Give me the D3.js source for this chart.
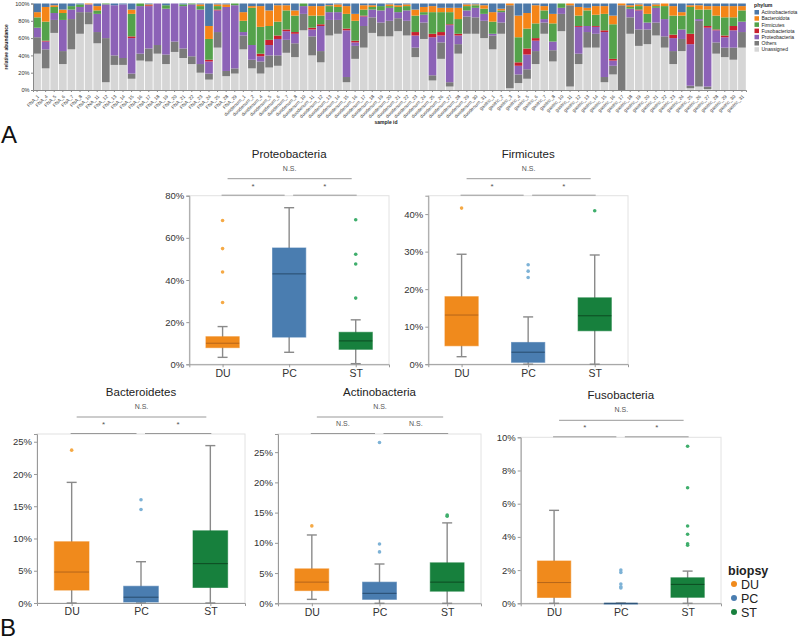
<!DOCTYPE html>
<html><head><meta charset="utf-8">
<script src="https://cdn.jsdelivr.net/npm/d3@7"></script>
<style>body{margin:0;background:#fff;} svg{display:block;font-family:"Liberation Sans",Arial,Helvetica,sans-serif;}</style>
</head><body><svg id="c" width="800" height="642"></svg>
<script>
// ---------- Panel A data ----------
const samples = ["FNA_1","FNA_4","FNA_5","FNA_6","FNA_7","FNA_8","FNA_10","FNA_11","FNA_12","FNA_13","FNA_14","FNA_15","FNA_16","FNA_17","FNA_18","FNA_19","FNA_20","FNA_21","FNA_22","FNA_23","FNA_24","FNA_25","FNA_28","FNA_29",
"duodenum_1","duodenum_2","duodenum_4","duodenum_5","duodenum_6","duodenum_7","duodenum_8","duodenum_10","duodenum_11","duodenum_12","duodenum_13","duodenum_14","duodenum_15","duodenum_16","duodenum_17","duodenum_18","duodenum_19","duodenum_20","duodenum_21","duodenum_22","duodenum_23","duodenum_24","duodenum_25","duodenum_26","duodenum_27","duodenum_28","duodenum_29","duodenum_30","duodenum_31",
"gastric_1","gastric_2","gastric_3","gastric_4","gastric_5","gastric_6","gastric_7","gastric_8","gastric_10","gastric_11","gastric_12","gastric_13","gastric_14","gastric_15","gastric_16","gastric_17","gastric_18","gastric_19","gastric_20","gastric_21","gastric_22","gastric_23","gastric_24","gastric_25","gastric_26","gastric_27","gastric_28","gastric_29","gastric_30","gastric_31"];

const unassigned = [42,25,66,30,47,65,76,54,9,29,29,13,34,33,42,30,44,37,30,20,12,49,16,19,
 47,25,19,26,28,43,38,69,40,32,63,65,9,36,49,66,62,62,68,63,38,59,11,36,4,42,65,65,60,
 47,65,2,8,13,30,65,33,68,4,30,49,49,9,18,0,65,51,53,63,49,30,45,2,4,1,42,38,35,49];
const others = [19,22,15,15,35,25,14,13,51,11,8,6,8,15,10,11,12,11,9,10,7,18,6,6,
 16,10,14,14,12,15,16,19,22,13,18,16,6,15,25,18,16,18,15,17,11,19,6,19,5,11,20,19,20,
 16,13,96,10,11,15,13,13,20,94,12,18,16,6,10,98,19,19,17,15,13,15,14,3,76,3,13,11,14,18];
const proteobacteria = [11,9,8,36,11,6,9,21,39,58,62,41,55,49,48,53,44,49,60,63,14,25,74,73,
 4,17,6,12,19,10,11,9,8,29,9,9,54,4,11,9,14,15,7,12,14,9,44,8,66,10,7,11,8,
 2,12,0,10,17,12,4,10,7,0,31,7,8,52,6,0,10,22,8,17,20,15,11,48,2,68,14,12,20,12];
const fusobacteriota = [0,1,0,0,0,0,0,0,0,0,0,2,0,1,0,0,0,0,0,0,2,1,0,0,
 0,0,3,6,4,2,2,0,2,2,0,0,2,2,1,0,0,0,0,0,4,0,4,4,1,2,0,0,0,
 0,0,0,4,7,3,0,0,0,0,1,0,1,2,2,0,0,1,0,0,0,4,0,12,0,2,1,2,5,0];
const firmicutes = [12,22,7,8,4,3,0,4,1,0,0,26,3,0,0,4,0,2,1,4,24,4,0,2,
 13,43,31,16,16,22,19,3,14,10,7,6,17,23,7,3,5,2,6,5,19,3,25,23,14,17,5,3,6,
 14,2,0,29,23,17,10,21,5,0,12,18,13,19,40,0,2,4,10,2,15,22,16,31,11,19,16,21,10,13];
const bacteroidota = [6,17,2,4,0,0,1,5,0,0,0,5,0,1,0,0,0,0,0,2,15,2,3,0,
 10,2,24,18,19,6,6,0,11,11,1,3,9,8,5,2,0,2,2,2,7,6,7,5,5,13,2,1,4,
 11,2,2,25,18,21,5,11,0,2,10,3,10,9,10,2,2,2,9,2,3,11,4,2,5,4,11,13,13,5];
const actinobacteriota = [10,4,2,7,3,1,0,3,0,2,1,7,0,1,0,2,0,1,0,1,26,1,1,0,
 10,3,3,8,2,2,8,0,3,3,2,1,3,12,2,2,3,1,2,1,7,4,3,5,5,5,1,1,2,
 10,6,0,14,11,2,3,12,0,0,4,5,3,3,14,0,2,1,3,1,0,3,10,2,2,3,3,3,3,3];

const phyla = ["Actinobacteriota","Bacteroidota","Firmicutes","Fusobacteriota","Proteobacteria","Others","Unassigned"];
const phylumColors = ["#4c78a8","#f58518","#54a24b","#c8202f","#8c62b7","#7b7b7b","#d6d6d6"];
const abundanceTicks = [0,0.2,0.4,0.6,0.8,1.0];

// ---------- Panel B data ----------
const groups = ["DU","PC","ST"];
const groupColors = ["#f08a1c","#4a7db0","#17803d"];
const medianColors = ["#b5651a","#274a6c","#0d4a22"];
const outlierColors = ["#f5a945","#7db2d6","#3fae6c"];
// [min, q1, median, q3, max] in %
const proteoStats = [[3.3,7.9,10.0,13.1,17.9],[5.7,12.9,42.9,55.2,74.3],[0.3,7.1,11.1,15.2,21.1]];
const proteoOut = [[68.2,54.9,43.8,29.3],[],[68.6,52.2,47.6,31.4]];
const firmStats = [[2.0,4.9,13.1,18.0,29.3],[0.0,0.5,3.2,5.8,12.6],[0.0,8.9,12.9,17.7,29.1]];
const firmOut = [[41.6],[26.5,24.8,23.1],[40.9]];
const bactStats = [[0.0,2.0,4.8,9.5,18.7],[0.0,0.15,0.9,2.6,6.4],[0.0,2.4,6.1,11.2,24.4]];
const bactOut = [[23.7],[16.0,14.5],[]];
const actinoStats = [[0.65,2.1,3.5,5.7,11.3],[0.0,0.65,1.65,3.5,6.5],[0.0,2.0,3.5,6.7,13.3]];
const actinoOut = [[12.8],[26.6,9.8,8.5],[14.6,14.4]];
const fusoStats = [[0.0,0.35,1.25,2.55,5.6],[0,0,0,0,0],[0.0,0.36,1.14,1.54,1.94]];
const fusoOut = [[],[2.0,1.86,1.16,1.0,0.92],[9.46,6.96,4.66,4.16,3.58,3.5]];
const sigStar = ["*","*","N.S."];
const sigNS = ["N.S.","N.S.","N.S."];

const svg = d3.select("#c");

// ================= Panel A =================
(function(){
  const L=33, R=746, T=3.5, B=90;
  const series = {Actinobacteriota:actinobacteriota,Bacteroidota:bacteroidota,Firmicutes:firmicutes,Fusobacteriota:fusobacteriota,Proteobacteria:proteobacteria,Others:others,Unassigned:unassigned};
  const table = samples.map((s,i)=>{const o={sample:s}; let tot=0; phyla.forEach(p=>tot+=series[p][i]); phyla.forEach(p=>o[p]=series[p][i]/tot); return o;});
  const keysBottomUp = phyla.slice().reverse();
  const stack = d3.stack().keys(keysBottomUp)(table);
  const x = d3.scaleBand().domain(samples).range([L,R]).paddingInner(0.1).paddingOuter(0.02);
  const y = d3.scaleLinear().domain([0,1]).range([B,T]);
  const color = d3.scaleOrdinal().domain(phyla).range(phylumColors);
  const g = svg.append("g");
  g.append("g").selectAll("g").data(stack).join("g").attr("fill",d=>color(d.key))
    .selectAll("rect").data(d=>d).join("rect")
    .attr("x",d=>x(d.data.sample)).attr("width",x.bandwidth())
    .attr("y",d=>y(d[1])).attr("height",d=>Math.max(0,y(d[0])-y(d[1])));
  const ya = g.append("g").attr("transform",`translate(${L},0)`)
    .call(d3.axisLeft(y).tickValues(abundanceTicks).tickFormat(d3.format(".0%")).tickSize(2).tickPadding(1.5));
  ya.select(".domain").attr("stroke","#888");
  ya.selectAll("line").attr("stroke","#888");
  ya.selectAll("text").attr("font-size",5.6).style("fill","#333");
  const xa = g.append("g").attr("transform",`translate(0,${B})`)
    .call(d3.axisBottom(x).tickSize(2).tickPadding(1));
  xa.select(".domain").attr("stroke","#888");
  xa.selectAll("line").attr("stroke","#888");
  xa.selectAll("text").attr("font-size",4.8).style("fill","#444")
    .attr("text-anchor","end").attr("dy","0.3em").attr("dx","-0.2em")
    .attr("transform","translate(0,3) rotate(-45)");
  g.append("text").attr("transform",`translate(8,${(T+B)/2}) rotate(-90)`).attr("text-anchor","middle")
    .attr("font-size",5).attr("font-weight","bold").attr("fill","#222").text("relative abundance");
  g.append("text").attr("x",386).attr("y",124).attr("text-anchor","middle")
    .attr("font-size",5).attr("font-weight","bold").attr("fill","#222").text("sample id");
  // legend
  const lg = g.append("g").attr("transform","translate(754,0)");
  lg.append("text").attr("x",0).attr("y",7).attr("font-size",5.2).attr("font-weight","bold").attr("fill","#222").text("phylum");
  phyla.forEach((p,i)=>{
    lg.append("rect").attr("x",0.5).attr("y",10+i*6.2).attr("width",4.5).attr("height",4.5).attr("fill",color(p));
    lg.append("text").attr("x",7.5).attr("y",14.2+i*6.2).attr("font-size",5).attr("fill","#222").text(p);
  });
  svg.append("text").attr("x",1).attr("y",143).attr("font-size",24).attr("fill","#111").text("A");
  svg.append("text").attr("x",0).attr("y",636).attr("font-size",24).attr("fill","#111").text("B");
})();

// ================= Panel B =================
function boxPanel(cfg){
  const {L,R,T,B,ymax,ticks,title,stats,outs,sig} = cfg;
  const g = svg.append("g");
  const x = d3.scalePoint().domain(groups).range([L,R]).padding(0.5);
  const y = d3.scaleLinear().domain([0,ymax]).range([B,T]);
  const step = x.step(), bw = step*0.5;
  g.append("rect").attr("x",L).attr("y",T).attr("width",R-L).attr("height",B-T).attr("fill","none").attr("stroke","#e2e2e2");
  const ya = g.append("g").attr("transform",`translate(${L},0)`)
    .call(d3.axisLeft(y).tickValues(ticks).tickFormat(d=>d+"%").tickSize(3).tickPadding(2));
  ya.select(".domain").attr("stroke","#999");
  ya.selectAll("line").attr("stroke","#999");
  ya.selectAll("text").attr("font-size",9.5).style("fill","#333");
  const xa = g.append("g").attr("transform",`translate(0,${B})`)
    .call(d3.axisBottom(x).tickSize(3).tickPadding(2));
  xa.select(".domain").attr("stroke","#999");
  xa.selectAll("line").attr("stroke","#999");
  xa.selectAll("text").attr("font-size",10.5).style("fill","#333");
  groups.forEach((gr,i)=>{
    const s = stats[i], cx = x(gr);
    const w = g.append("g");
    w.append("line").attr("x1",cx).attr("x2",cx).attr("y1",y(s[0])).attr("y2",y(s[4])).attr("stroke","#8a8a8a").attr("stroke-width",1.4);
    [s[0],s[4]].forEach(v=>w.append("line").attr("x1",cx-5).attr("x2",cx+5).attr("y1",y(v)).attr("y2",y(v)).attr("stroke","#8a8a8a").attr("stroke-width",1.4));
    w.append("rect").attr("x",cx-bw/2).attr("width",bw).attr("y",y(s[3])).attr("height",Math.max(0.8,y(s[1])-y(s[3])))
      .attr("fill",groupColors[i]).attr("stroke",groupColors[i]).attr("stroke-opacity",0.6);
    w.append("line").attr("x1",cx-bw/2).attr("x2",cx+bw/2).attr("y1",y(s[2])).attr("y2",y(s[2])).attr("stroke",medianColors[i]).attr("stroke-width",1);
    w.selectAll("circle").data(outs[i]).join("circle").attr("cx",cx).attr("cy",v=>y(v)).attr("r",1.8).attr("fill",outlierColors[i]);
  });
  const cxm = (L+R)/2;
  g.append("text").attr("x",cxm).attr("y",T-38).attr("text-anchor","middle").attr("font-size",11.5).attr("fill","#222").text(title);
  const xDU=x("DU"), xPC=x("PC"), xST=x("ST");
  const br = [[xDU-1,xPC-4.5],[xPC+4,xST+1],[xDU+5,xST-4]];
  const by = [T-0.5,T-0.5,T-17];
  br.forEach((b,i)=>{
    g.append("line").attr("x1",b[0]).attr("x2",b[1]).attr("y1",by[i]).attr("y2",by[i]).attr("stroke","#999").attr("stroke-width",1);
    const isStar = sig[i]==="*";
    g.append("text").attr("x",(b[0]+b[1])/2).attr("y",i<2?(isStar?T-7:T-8):T-25)
      .attr("text-anchor","middle").attr("font-size",isStar?8:7).attr("fill","#555").text(sig[i]);
  });
}

boxPanel({L:189.3,R:389,T:195.7,B:364.3,ymax:80,ticks:[0,20,40,60,80],title:"Proteobacteria",stats:proteoStats,outs:proteoOut,sig:sigStar});
boxPanel({L:428.3,R:628,T:195.7,B:364.2,ymax:44.9,ticks:[0,10,20,30,40],title:"Firmicutes",stats:firmStats,outs:firmOut,sig:sigStar});
boxPanel({L:37,R:245,T:434,B:603,ymax:26.2,ticks:[0,5,10,15,20,25],title:"Bacteroidetes",stats:bactStats,outs:bactOut,sig:sigStar});
boxPanel({L:278,R:481,T:434,B:603.3,ymax:28,ticks:[0,5,10,15,20,25],title:"Actinobacteria",stats:actinoStats,outs:actinoOut,sig:sigNS});
boxPanel({L:520.7,R:721,T:437.3,B:603.3,ymax:10,ticks:[0,2,4,6,8,10],title:"Fusobacteria",stats:fusoStats,outs:fusoOut,sig:sigStar});

const bl = svg.append("g");
bl.append("text").attr("x",728).attr("y",575).attr("font-size",12.5).attr("font-weight","bold").attr("fill","#222").text("biopsy");
groups.forEach((gr,i)=>{
  bl.append("circle").attr("cx",734).attr("cy",584+i*14).attr("r",3).attr("fill",groupColors[i]);
  bl.append("text").attr("x",741).attr("y",588.5+i*14).attr("font-size",12.5).attr("fill","#222").text(gr);
});
</script></body></html>
